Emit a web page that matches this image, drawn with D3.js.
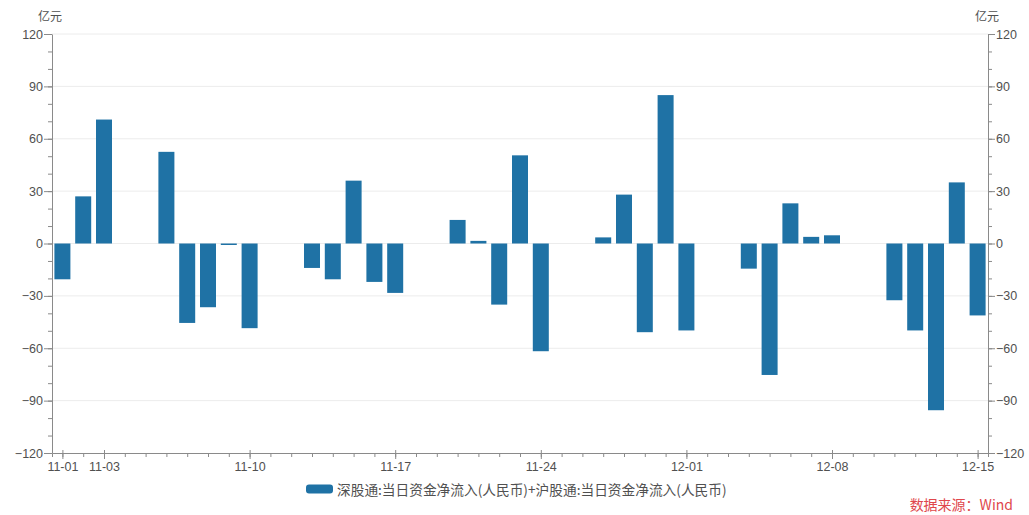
<!DOCTYPE html>
<html>
<head>
<meta charset="utf-8">
<script src="https://cdn.jsdelivr.net/npm/d3@7"></script>
<style>
  html, body { margin: 0; padding: 0; background: #fff; }
  svg { display: block; font-family: "Open Sans", "Noto Sans CJK SC", sans-serif; }
</style>
</head>
<body>
<svg id="chart" width="1029" height="515"></svg>
<script>
// ---- data ----
const dates = [
  "2023-11-01","2023-11-02","2023-11-03",
  "2023-11-06","2023-11-07","2023-11-08","2023-11-09","2023-11-10",
  "2023-11-13","2023-11-14","2023-11-15","2023-11-16","2023-11-17",
  "2023-11-20","2023-11-21","2023-11-22","2023-11-23","2023-11-24",
  "2023-11-27","2023-11-28","2023-11-29","2023-11-30","2023-12-01",
  "2023-12-04","2023-12-05","2023-12-06","2023-12-07","2023-12-08",
  "2023-12-11","2023-12-12","2023-12-13","2023-12-14","2023-12-15"
];
const values = [
  -20.5, 27, 71,
  52.5, -45.5, -36.5, -0.8, -48.5,
  -14, -20.5, 36, -22, -28.3,
  13.5, 1.5, -35, 50.5, -61.7,
  3.5, 28, -50.8, 85, -49.8,
  -14.4, -75.3, 23, 3.8, 4.7,
  -32.5, -49.8, -95.5, 35, -41.2
];
const tickLabelDates = ["2023-11-01","2023-11-03","2023-11-10","2023-11-17","2023-11-24","2023-12-01","2023-12-08","2023-12-15"];
const yTicks = [-120, -90, -60, -30, 0, 30, 60, 90, 120];
const unitLabel = "亿元";
const legendLabel = "深股通:当日资金净流入(人民币)+沪股通:当日资金净流入(人民币)";
const sourceLabel = "数据来源：Wind";

// ---- layout ----
const svg = d3.select("#chart");
const mLeft = 52, mRight = 988, mTop = 34, mBottom = 453;
const parse = d3.utcParse("%Y-%m-%d");
const fmt = d3.utcFormat("%m-%d");
const data = dates.map((d, i) => ({ date: parse(d), value: values[i] }));

const start = d3.utcHour.offset(parse("2023-11-01"), -12);
const end = d3.utcHour.offset(parse("2023-12-15"), 12);
const x = d3.scaleUtc().domain([start, end]).range([mLeft, mRight]);
const y = d3.scaleLinear().domain([-120, 120]).range([mBottom, mTop]);

const axisColor = "#8a8a8a";
const textColor = "#505050";
const barColor = "#1f72a5";

// gridlines
svg.append("g").selectAll("line").data(yTicks.filter(v => v !== -120)).join("line")
  .attr("x1", mLeft).attr("x2", mRight)
  .attr("y1", d => y(d)).attr("y2", d => y(d))
  .attr("stroke", "#ececec").attr("stroke-width", 1);

// bars
const bw = 16;
svg.append("g").selectAll("rect").data(data).join("rect")
  .attr("x", d => x(d.date) - bw / 2)
  .attr("width", bw)
  .attr("y", d => Math.min(y(d.value), y(0)))
  .attr("height", d => Math.max(1.5, Math.abs(y(d.value) - y(0))))
  .attr("fill", barColor);

// y axes
const minorY = d3.range(-120, 121, 10);
function styleAxis(g) {
  g.select(".domain").attr("stroke", axisColor);
  g.selectAll(".tick line").attr("stroke", axisColor);
  g.selectAll(".tick text").attr("fill", textColor).attr("font-size", 12.5);
}
const yLeftMinor = svg.append("g").attr("transform", `translate(${mLeft},0)`)
  .call(d3.axisLeft(y).tickValues(minorY).tickSize(4).tickFormat(""));
yLeftMinor.select(".domain").remove();
yLeftMinor.selectAll(".tick line").attr("stroke", axisColor);
const yLeft = svg.append("g").attr("transform", `translate(${mLeft},0)`)
  .call(d3.axisLeft(y).tickValues(yTicks).tickSize(8).tickSizeOuter(0).tickPadding(1));
styleAxis(yLeft);

const yRightMinor = svg.append("g").attr("transform", `translate(${mRight},0)`)
  .call(d3.axisRight(y).tickValues(minorY).tickSize(4).tickFormat(""));
yRightMinor.select(".domain").remove();
yRightMinor.selectAll(".tick line").attr("stroke", axisColor);
const yRight = svg.append("g").attr("transform", `translate(${mRight},0)`)
  .call(d3.axisRight(y).tickValues(yTicks).tickSize(7).tickSizeOuter(0).tickPadding(1));
styleAxis(yRight);

// x axis
const allDays = d3.utcDay.range(parse("2023-11-01"), d3.utcDay.offset(parse("2023-12-15"), 1));
const xMinor = svg.append("g").attr("transform", `translate(0,${mBottom})`)
  .call(d3.axisBottom(x).tickValues(allDays).tickSize(4).tickFormat(""));
xMinor.select(".domain").attr("stroke", axisColor);
xMinor.selectAll(".tick line").attr("stroke", axisColor);
const xMajor = svg.append("g").attr("transform", `translate(0,${mBottom})`)
  .call(d3.axisBottom(x).tickValues(tickLabelDates.map(parse)).tickSize(6).tickFormat(fmt).tickPadding(3));
xMajor.select(".domain").remove();
xMajor.selectAll(".tick line").attr("stroke", axisColor).attr("y1", -3);
xMajor.selectAll(".tick text").attr("fill", textColor).attr("font-size", 12.5);

// unit labels
svg.append("text").attr("x", 38).attr("y", 21).attr("fill", textColor)
  .attr("font-size", 12).attr("font-family", "Noto Sans CJK SC").text(unitLabel);
svg.append("text").attr("x", 975).attr("y", 21).attr("fill", textColor)
  .attr("font-size", 12).attr("font-family", "Noto Sans CJK SC").text(unitLabel);

// legend
svg.append("rect").attr("x", 306).attr("y", 484.5).attr("width", 27).attr("height", 9)
  .attr("rx", 3).attr("fill", barColor);
svg.append("text").attr("x", 337).attr("y", 494.5).attr("fill", textColor)
  .attr("font-size", 13.7).attr("font-family", "Noto Sans CJK SC").text(legendLabel);

// source
svg.append("text").attr("x", 1013).attr("y", 510).attr("text-anchor", "end")
  .attr("fill", "#e0474c").attr("font-size", 14).attr("font-family", "Noto Sans CJK SC")
  .text(sourceLabel);
</script>
</body>
</html>
